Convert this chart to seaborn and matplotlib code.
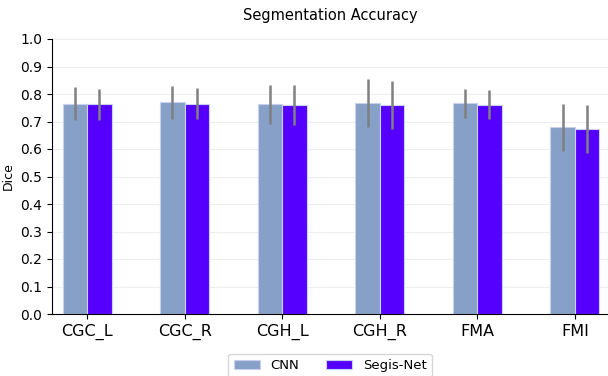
import matplotlib
matplotlib.use("Agg")
import matplotlib.pyplot as plt
import seaborn as sns
import pandas as pd
import numpy as np

categories = ["CGC_L", "CGC_R", "CGH_L", "CGH_R", "FMA", "FMI"]
models = ["CNN", "Segis-Net"]
cnn_mean = [0.765, 0.770, 0.762, 0.766, 0.766, 0.679]
cnn_std = [0.060, 0.060, 0.071, 0.087, 0.052, 0.085]
segis_mean = [0.762, 0.765, 0.759, 0.759, 0.761, 0.673]
segis_std = [0.057, 0.056, 0.072, 0.087, 0.052, 0.087]
yticks = [0.0, 0.1, 0.2, 0.3, 0.4, 0.5, 0.6, 0.7, 0.8, 0.9, 1.0]

df = pd.DataFrame({
    "region": categories * 2,
    "model": [models[0]] * len(categories) + [models[1]] * len(categories),
    "dice": cnn_mean + segis_mean,
    "std": cnn_std + segis_std,
})

fig = plt.figure(figsize=(6.08, 3.76), dpi=100)
ax = fig.add_axes([52 / 608, (376 - 314) / 376, (608 - 52) / 608, (314 - 39) / 376])

palette = {"CNN": "#87a0c8", "Segis-Net": "#5500ff"}
sns.barplot(data=df, x="region", y="dice", hue="model", palette=palette,
            width=0.5, errorbar=None, ax=ax, saturation=1,
            edgecolor="#c8d2f0", linewidth=0.8, zorder=2)

# error bars at each bar center
for cont, stds in zip(ax.containers, [cnn_std, segis_std]):
    xs = [p.get_x() + p.get_width() / 2 for p in cont.patches]
    hs = [p.get_height() for p in cont.patches]
    ax.errorbar(xs, hs, yerr=stds, fmt="none", ecolor="#808080",
                elinewidth=1.8, capsize=0, zorder=3)

ax.set_xlim(-0.36, 5.34)
ax.set_ylim(0, 1.0)
ax.set_yticks(yticks)
ax.set_yticklabels([f"{t:.1f}" for t in yticks], fontsize=10)
ax.tick_params(axis="x", labelsize=11.5)
ax.set_xlabel("")
ax.set_ylabel("Dice", fontsize=9)
ax.yaxis.grid(True, color="#eeeeee", linewidth=0.8, zorder=0)
ax.set_axisbelow(True)
for s in ["top", "right"]:
    ax.spines[s].set_visible(False)
ax.set_title("Segmentation Accuracy", fontsize=10.5, pad=14)

ax.legend(loc="upper center", bbox_to_anchor=(0.5, -0.12), ncol=2,
          frameon=True, fontsize=9.5, columnspacing=2.0, handlelength=2.0)

fig.savefig("out.png", dpi=100)
